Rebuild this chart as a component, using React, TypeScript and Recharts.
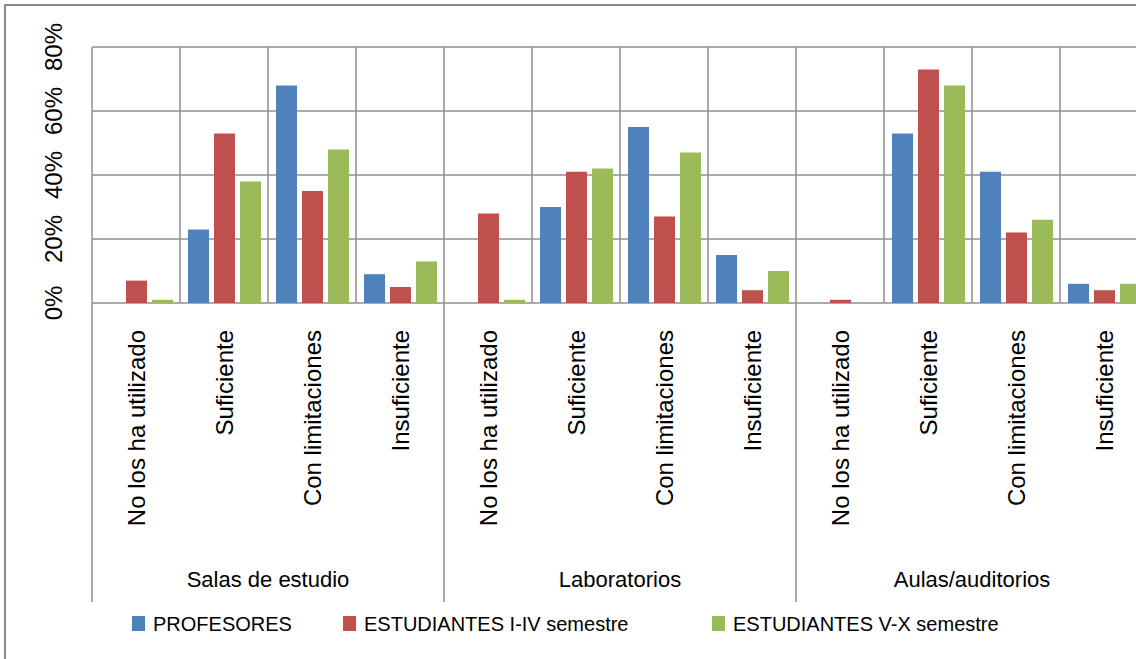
import React from 'react';
import { BarChart, Bar, XAxis, YAxis, CartesianGrid } from 'recharts';

const groups = ['Salas de estudio', 'Laboratorios', 'Aulas/auditorios'];
const categories = ['No los ha utilizado', 'Suficiente', 'Con limitaciones', 'Insuficiente'];
const profesores = [0, 23, 68, 9, 0, 30, 55, 15, 0, 53, 41, 6];
const estudiantesIaIV = [7, 53, 35, 5, 28, 41, 27, 4, 1, 73, 22, 4];
const estudiantesVaX = [1, 38, 48, 13, 1, 42, 47, 10, 0, 68, 26, 6];
const yTicks = [0, 20, 40, 60, 80];

const series = [
  { key: 'prof', name: 'PROFESORES', color: '#4F81BD', values: profesores },
  { key: 'est1', name: 'ESTUDIANTES I-IV semestre', color: '#C0504D', values: estudiantesIaIV },
  { key: 'est2', name: 'ESTUDIANTES V-X semestre', color: '#9BBB59', values: estudiantesVaX },
];

const data = groups.flatMap((group, gi) =>
  categories.map((cat, ci) => {
    const id = gi * categories.length + ci;
    const row: Record<string, string | number> = { id, cat, group };
    series.forEach(s => { row[s.key] = s.values[id]; });
    return row;
  })
);

const FONT = '"Liberation Sans", Arial, sans-serif';
const GRID = '#8f8f8f';

// layout
const CHART_W = 1160;
const CHART_H = 659;
const MARGIN = { top: 47, right: 12, bottom: 0, left: 0 };
const Y_AXIS_W = 92;
const X_AXIS_H = 356;
const PLOT_LEFT = MARGIN.left + Y_AXIS_W;
const PLOT_W = CHART_W - MARGIN.right - PLOT_LEFT;
const PLOT_BOTTOM = CHART_H - MARGIN.bottom - X_AXIS_H;
const BAND = PLOT_W / data.length;
const SEP_BOTTOM = 602;
const LEGEND_X = [132, 343, 712];

const PercentTick = (props: any) => {
  const { y, payload } = props;
  const bx = Y_AXIS_W - 30;
  return (
    <text x={bx} y={y} transform={`rotate(-90 ${bx} ${y})`} textAnchor="middle" fontSize={24} fontFamily={FONT} fill="#000">
      {payload.value}%
    </text>
  );
};

const CategoryTick = (props: any) => {
  const { x, payload } = props;
  const row = data[payload.value as number];
  const i = row.id as number;
  const lx = x + 9;
  const ly = PLOT_BOTTOM + 27;
  const left = x - BAND / 2;
  return (
    <g>
      <text x={lx} y={ly} transform={`rotate(-90 ${lx} ${ly})`} textAnchor="end" fontSize={24} fontFamily={FONT} fill="#000">
        {row.cat}
      </text>
      {i % categories.length === 0 && (
        <line x1={left} x2={left} y1={PLOT_BOTTOM} y2={SEP_BOTTOM} stroke={GRID} strokeWidth={1.5} />
      )}
      {i % categories.length === 1 && (
        <text x={x + BAND / 2} y={587} textAnchor="middle" fontSize={22} fontFamily={FONT} fill="#000">
          {row.group}
        </text>
      )}
    </g>
  );
};

export default function App() {
  const verticalPoints = data.map((_, i) => PLOT_LEFT + i * BAND).concat(PLOT_LEFT + data.length * BAND);
  return (
    <div style={{ position: 'fixed', left: 0, top: 0, width: 1136, height: 659, overflow: 'hidden', background: '#fff' }}>
      <div style={{ position: 'absolute', left: 4, top: 4, width: 1200, height: 700, borderLeft: '2px solid #8a8a8a', borderTop: '2px solid #8a8a8a' }} />
      <div style={{ position: 'absolute', left: 0, top: 0 }}>
        <BarChart width={CHART_W} height={CHART_H} data={data} margin={MARGIN} barCategoryGap={8} barGap={5}>
          <CartesianGrid stroke={GRID} strokeWidth={1.5} verticalPoints={verticalPoints} />
          <XAxis dataKey="id" type="category" height={X_AXIS_H} interval={0} axisLine={false} tickLine={false} tick={<CategoryTick />} />
          <YAxis width={Y_AXIS_W} domain={[0, 80]} ticks={yTicks} axisLine={false} tickLine={false} tick={<PercentTick />} />
          {series.map(s => (
            <Bar key={s.key} dataKey={s.key} name={s.name} fill={s.color} isAnimationActive={false} />
          ))}
        </BarChart>
      </div>
      <svg width={1136} height={659} style={{ position: 'absolute', left: 0, top: 0, pointerEvents: 'none' }}>
        {series.map((s, i) => (
          <g key={s.key}>
            <rect x={LEGEND_X[i]} y={616} width={13} height={15} fill={s.color} />
            <text x={LEGEND_X[i] + 21} y={631} fontSize={20} fontFamily={FONT} fill="#000">{s.name}</text>
          </g>
        ))}
      </svg>
    </div>
  );
}
